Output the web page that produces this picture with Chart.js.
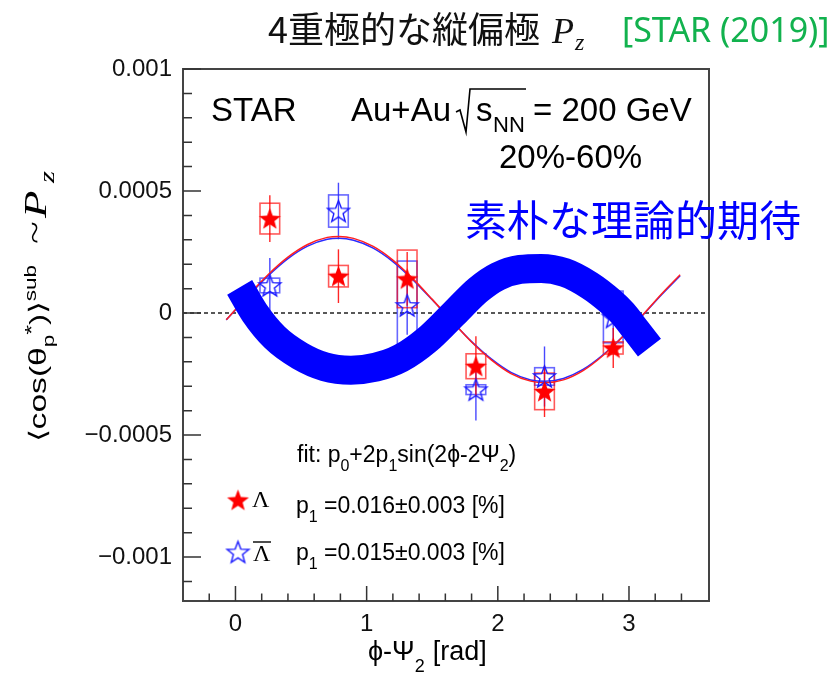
<!DOCTYPE html>
<html><head><meta charset="utf-8">
<script src="https://cdn.jsdelivr.net/npm/chart.js@4/dist/chart.umd.min.js"></script>
<style>html,body{margin:0;padding:0;background:#fff;}</style>
</head><body>
<canvas id="c" width="835" height="680"></canvas>
<script>
// ---- data ----
const phiBins = [0.262, 0.785, 1.309, 1.833, 2.356, 2.880];
const lambdaVal  = [0.000387, 0.000151, 0.000140, -0.000218, -0.000321, -0.000143];
const lambdaStat = [0.000096, 0.000110, 0.000110, 0.000123, 0.000105, 0.000082];
const lambdaSys  = [0.000063, 0.000044, 0.000118, 0.000051, 0.000075, 0.000025];
const antiVal  = [0.000113, 0.000418, 0.000031, -0.000314, -0.000260, -0.000016];
const antiStat = [0.000113, 0.000116, 0.000120, 0.000126, 0.000123, 0.000100];
const antiSys  = [0.000030, 0.000066, 0.000182, 0.000020, 0.000036, 0.000106];
const sysHalfWidth = 0.075;

const fitX = [-0.07, 0.1, 0.25, 0.4, 0.55, 0.7, 0.79, 0.9, 1.05, 1.2, 1.35, 1.5, 1.65, 1.8, 1.95, 2.1, 2.25, 2.36, 2.5, 2.65, 2.8, 2.95, 3.1, 3.25, 3.39];
const fitLambda = [-0.000028, 0.000074, 0.000158, 0.000229, 0.000281, 0.000310, 0.000314, 0.000306, 0.000273, 0.000217, 0.000142, 0.000056, -0.000033, -0.000119, -0.000192, -0.000248, -0.000279, -0.000286, -0.000274, -0.000236, -0.000175, -0.000098, -0.000011, 0.000079, 0.000157];
const fitAnti = [-0.000028, 0.000071, 0.000153, 0.000223, 0.000274, 0.000302, 0.000306, 0.000298, 0.000266, 0.000211, 0.000138, 0.000054, -0.000033, -0.000117, -0.000188, -0.000243, -0.000274, -0.000280, -0.000268, -0.000231, -0.000172, -0.000097, -0.000012, 0.000076, 0.000153];

const naiveX = [0.032, 0.147, 0.30, 0.49, 0.68, 0.88, 1.07, 1.26, 1.46, 1.67, 1.85, 2.0, 2.17, 2.33, 2.51, 2.70, 2.86, 2.95, 3.05, 3.156];
const naiveY = [0.000105, 0.0, -0.000100, -0.000175, -0.000220, -0.000234, -0.000222, -0.000185, -0.000110, 0.0, 0.000095, 0.000150, 0.000179, 0.000183, 0.000166, 0.000113, 0.000047, 0.0, -0.000068, -0.000142];

const xTickValues = [0, 1, 2, 3];
const xTickLabels = ['0', '1', '2', '3'];
const yTickValues = [0.001, 0.0005, 0, -0.0005, -0.001];
const yTickLabels = ['0.001', '0.0005', '0', '\u22120.0005', '\u22120.001'];

// ---- star markers ----
function starCanvas(fill, stroke, R) {
  const s = Math.ceil(2 * R + 4);
  const c = document.createElement('canvas'); c.width = s; c.height = s;
  const g = c.getContext('2d');
  g.beginPath();
  for (let i = 0; i < 10; i++) {
    const r = i % 2 ? R * 0.42 : R;
    const a = -Math.PI / 2 + i * Math.PI / 5;
    g.lineTo(s / 2 + r * Math.cos(a), s / 2 + 1 + r * Math.sin(a));
  }
  g.closePath();
  if (fill) { g.fillStyle = fill; g.fill(); }
  if (stroke) { g.strokeStyle = stroke; g.lineWidth = 1.4; g.stroke(); }
  return c;
}
const starRed = starCanvas('#ff0000', null, 11.5);
const starBlue = starCanvas(null, '#1a1aff', 11.5);

const SANS = "'Liberation Sans', Arial, sans-serif";
const SERIF = "'Liberation Serif', 'Times New Roman', serif";

function rich(ctx, x, y, parts) {
  let cx = x;
  for (const p of parts) {
    ctx.font = p.font;
    ctx.fillText(p.t, cx, y + (p.dy || 0));
    cx += ctx.measureText(p.t).width + (p.gap || 0);
  }
  return cx;
}

const decor = {
  id: 'decor',
  beforeDatasetsDraw(chart) {
    const ctx = chart.ctx, xs = chart.scales.x, ys = chart.scales.y;
    const {left, right} = chart.chartArea;
    ctx.save();
    ctx.setLineDash([4, 3]); ctx.strokeStyle = '#222'; ctx.lineWidth = 1.5;
    const y0 = ys.getPixelForValue(0);
    ctx.beginPath(); ctx.moveTo(left, y0); ctx.lineTo(right, y0); ctx.stroke();
    ctx.setLineDash([]);
    const drawSet = (vals, stat, sys, col, boxCol) => {
      for (let i = 0; i < phiBins.length; i++) {
        const px = xs.getPixelForValue(phiBins[i]);
        const x1 = xs.getPixelForValue(phiBins[i] - sysHalfWidth), x2 = xs.getPixelForValue(phiBins[i] + sysHalfWidth);
        const yt = ys.getPixelForValue(vals[i] + sys[i]), yb = ys.getPixelForValue(vals[i] - sys[i]);
        ctx.strokeStyle = boxCol; ctx.lineWidth = 1.6;
        ctx.strokeRect(x1, yt, x2 - x1, yb - yt);
        ctx.strokeStyle = col; ctx.lineWidth = 1.4;
        ctx.beginPath();
        ctx.moveTo(px, ys.getPixelForValue(vals[i] + stat[i]));
        ctx.lineTo(px, ys.getPixelForValue(vals[i] - stat[i]));
        ctx.stroke();
      }
    };
    drawSet(antiVal, antiStat, antiSys, 'rgba(40,40,255,0.85)', 'rgba(40,40,255,0.7)');
    drawSet(lambdaVal, lambdaStat, lambdaSys, 'rgba(255,0,0,0.85)', 'rgba(255,0,0,0.65)');
    ctx.restore();
  },
  afterDatasetsDraw(chart) {
    const ctx = chart.ctx, xs = chart.scales.x, ys = chart.scales.y;
    const {left, right, top, bottom} = chart.chartArea;
    ctx.save();
    ctx.strokeStyle = '#444'; ctx.lineWidth = 2;
    ctx.strokeRect(left, top, right - left, bottom - top);
    ctx.strokeStyle = '#333'; ctx.lineWidth = 1.5;
    ctx.beginPath();
    for (let i = -1; i <= 17; i++) {
      const v = i * 0.2, major = i % 5 === 0;
      const px = xs.getPixelForValue(v);
      ctx.moveTo(px, bottom); ctx.lineTo(px, bottom - (major ? 15 : 7.5));
    }
    for (let i = -11; i <= 10; i++) {
      const v = i * 0.0001, major = i % 5 === 0;
      const py = ys.getPixelForValue(v);
      ctx.moveTo(left, py); ctx.lineTo(left + (major ? 18 : 9), py);
    }
    ctx.stroke();

    ctx.fillStyle = '#000'; ctx.textBaseline = 'alphabetic'; ctx.textAlign = 'left';
    ctx.font = '33px ' + SANS;
    ctx.fillText('STAR', 211, 121);
    ctx.fillText('Au+Au', 351, 121);
    ctx.strokeStyle = '#000'; ctx.lineWidth = 1.6;
    ctx.beginPath();
    ctx.moveTo(456, 112); ctx.lineTo(460, 110); ctx.lineTo(466, 132); ctx.lineTo(470, 89); ctx.lineTo(526, 89);
    ctx.stroke();
    ctx.font = '33px ' + SANS; ctx.fillText('s', 476, 121);
    ctx.font = '22px ' + SANS; ctx.fillText('NN', 493, 132);
    ctx.font = '33px ' + SANS; ctx.fillText('= 200 GeV', 533, 121);
    ctx.fillText('20%-60%', 499, 168);

    const F = '23px ' + SANS, S = '16px ' + SANS;
    rich(ctx, 297, 462, [
      {t: 'fit: p', font: F}, {t: '0', font: S, dy: 9}, {t: '+2p', font: F}, {t: '1', font: S, dy: 9},
      {t: 'sin(2\u03D5-2\u03A8', font: F}, {t: '2', font: S, dy: 9}, {t: ')', font: F}
    ]);
    rich(ctx, 296, 513, [{t: 'p', font: F}, {t: '1', font: S, dy: 9}, {t: ' =0.016\u00B10.003 [%]', font: F}]);
    rich(ctx, 296, 560, [{t: 'p', font: F}, {t: '1', font: S, dy: 9}, {t: ' =0.015\u00B10.003 [%]', font: F}]);
    ctx.drawImage(starRed, 238 - starRed.width / 2, 500 - starRed.height / 2);
    ctx.drawImage(starBlue, 238 - starBlue.width / 2, 552 - starBlue.height / 2);
    ctx.font = '24px ' + SERIF;
    ctx.fillText('\u039B', 252, 507);
    ctx.fillText('\u039B', 253, 561);
    ctx.strokeStyle = '#000'; ctx.lineWidth = 1.4;
    ctx.beginPath(); ctx.moveTo(253, 542); ctx.lineTo(271, 542); ctx.stroke();

    // x-axis title
    const XF = '27px ' + SANS;
    rich(ctx, 368, 660, [{t: '\u03D5-\u03A8', font: XF}, {t: '2', font: '18px ' + SANS, dy: 12, gap: 8}, {t: '[rad]', font: XF}]);

    // y-axis title (rotated, stretched along text direction)
    ctx.save();
    ctx.translate(46, 442);
    ctx.rotate(-Math.PI / 2);
    ctx.scale(1.4, 1);
    rich(ctx, 0, 0, [
      {t: '\u27E8cos(\u03B8', font: '24px ' + SANS}, {t: 'p', font: '16px ' + SANS, dy: 8},
      {t: '*', font: '18px ' + SANS, dy: -8}, {t: ')\u27E9', font: '24px ' + SANS},
      {t: 'sub', font: '16px ' + SANS, dy: -10}
    ]);
    ctx.font = '30px ' + SERIF; ctx.fillText('~', (442 - 244) / 1.4, -1);
    ctx.font = 'italic 32px ' + SERIF; ctx.fillText('P', (442 - 218) / 1.4, 0);
    ctx.font = 'italic 22px ' + SERIF; ctx.fillText('z', (442 - 183) / 1.4, 8);
    ctx.restore();

    // title
    ctx.font = "36px 'Noto Sans CJK JP'";
    ctx.fillStyle = '#111';
    ctx.fillText('4\u91CD\u6975\u7684\u306A\u7E26\u504F\u6975', 268, 43);
    ctx.font = 'italic 36px ' + SERIF; ctx.fillText('P', 552, 43);
    ctx.font = 'italic 24px ' + SERIF; ctx.fillText('z', 575, 50);
    ctx.fillStyle = '#12b24e';
    ctx.font = "34px 'Noto Sans', 'Open Sans'";
    ctx.fillText('[STAR (2019)]', 622, 42);

    ctx.fillStyle = '#0000ff';
    ctx.font = "42px 'Noto Sans CJK JP'";
    ctx.fillText('\u7D20\u6734\u306A\u7406\u8AD6\u7684\u671F\u5F85', 465, 236);
    ctx.restore();
  }
};

const pts = (xa, ya) => xa.map((x, i) => ({x, y: ya[i]}));

new Chart(document.getElementById('c'), {
  data: {
    datasets: [
      {type: 'line', label: 'naive', data: pts(naiveX, naiveY), borderColor: '#0000ff', borderWidth: 29,
       borderCapStyle: 'butt', pointRadius: 0, cubicInterpolationMode: 'monotone', fill: false, clip: false},
      {type: 'scatter', label: 'Lambda', data: pts(phiBins, lambdaVal), pointStyle: starRed},
      {type: 'scatter', label: 'antiLambda', data: pts(phiBins, antiVal), pointStyle: starBlue},
      {type: 'line', label: 'fitL', data: pts(fitX, fitLambda), borderColor: '#ff2020', borderWidth: 1.5,
       pointRadius: 0, cubicInterpolationMode: 'monotone', fill: false},
      {type: 'line', label: 'fitA', data: pts(fitX, fitAnti), borderColor: '#2a2aff', borderWidth: 1.5,
       pointRadius: 0, cubicInterpolationMode: 'monotone', fill: false}
    ]
  },
  options: {
    responsive: false, animation: false, devicePixelRatio: 1,
    layout: {padding: {left: 0, top: 69, right: 126, bottom: 0}},
    plugins: {legend: {display: false}, tooltip: {enabled: false}},
    scales: {
      x: {type: 'linear', min: -0.4, max: 3.61,
          grid: {display: false, drawTicks: false}, border: {display: false},
          ticks: {autoSkip: false, maxRotation: 0, padding: 9, color: '#111', font: {family: SANS, size: 24},
                  callback: v => xTickLabels[xTickValues.indexOf(v)]},
          afterBuildTicks: s => { s.ticks = xTickValues.map(v => ({value: v})); },
          afterFit: s => { s.height = 79; }},
      y: {type: 'linear', min: -0.00118, max: 0.001,
          grid: {display: false, drawTicks: false}, border: {display: false},
          ticks: {autoSkip: false, padding: 11, color: '#111', font: {family: SANS, size: 24},
                  callback: v => yTickLabels[yTickValues.indexOf(v)]},
          afterBuildTicks: s => { s.ticks = yTickValues.map(v => ({value: v})); },
          afterFit: s => { s.width = 183; }}
    }
  },
  plugins: [decor]
});
</script>
</body></html>
